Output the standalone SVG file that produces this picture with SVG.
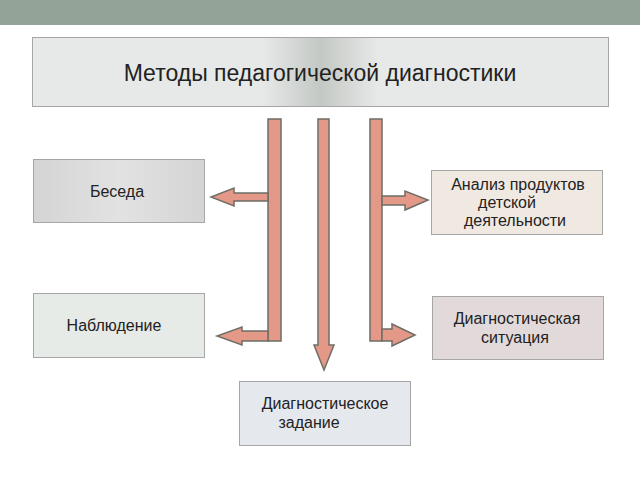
<svg xmlns="http://www.w3.org/2000/svg" width="640" height="480" viewBox="0 0 640 480">
<defs>
<linearGradient id="tg" x1="0" x2="1" y1="0" y2="0">
<stop offset="0" stop-color="#e6e9e7"/><stop offset="0.4" stop-color="#e6e9e7"/><stop offset="0.5" stop-color="#c4c8c5"/><stop offset="0.6" stop-color="#e6e9e7"/><stop offset="1" stop-color="#e6e9e7"/>
</linearGradient>
<linearGradient id="g1" x1="0" x2="1"><stop offset="0" stop-color="#d4d4d4"/><stop offset="0.5" stop-color="#e2e2e2"/><stop offset="1" stop-color="#d4d4d4"/></linearGradient>
</defs>
<style>
.b{stroke:#a6a6a6;stroke-width:1}
.t{font-family:"Liberation Sans",Arial,sans-serif;font-size:16px;fill:#222;text-anchor:middle}
.a{fill:#e39888;stroke:#6e6e66;stroke-width:1.5;stroke-linejoin:miter}
</style>
<rect width="640" height="480" fill="#fff"/>
<rect x="0" y="0" width="640" height="25" fill="#94a398"/>
<g id="title"><rect class="b" x="32.5" y="37.5" width="576" height="69" fill="url(#tg)"/><text class="t" x="320" y="81" style="font-size:23px">Методы педагогической диагностики</text></g>
<g id="beseda"><rect class="b" x="33.5" y="159.5" width="171" height="63" fill="url(#g1)"/><text class="t" x="117" y="197">Беседа</text></g>
<g id="nabl"><rect class="b" x="33.5" y="293.5" width="171" height="64" fill="#e6ebe8"/><text class="t" x="114" y="331">Наблюдение</text></g>
<g id="analiz"><rect class="b" x="431.5" y="170.5" width="171" height="64" fill="#f0e9e2"/><text class="t" x="518" y="190">Анализ продуктов</text><text class="t" x="507" y="208">детской</text><text class="t" x="515" y="226">деятельности</text></g>
<g id="sit"><rect class="b" x="432.5" y="296.5" width="171" height="63" fill="#e2dada"/><text class="t" x="517" y="324">Диагностическая</text><text class="t" x="515" y="343">ситуация</text></g>
<g id="zad"><rect class="b" x="239.5" y="381.5" width="171" height="64" fill="#e5e8ed"/><text class="t" x="325" y="409">Диагностическое</text><text class="t" x="309" y="428">задание</text></g>
<g id="connectors">
<path class="a" d="M268,119 H281 V341 H268 Z"/>
<path class="a" d="M268,193 H234 V188 L211,197 L234,206 V201 H268 Z"/>
<path class="a" d="M268,331 H242 V327 L217,336 L242,345 V341 H268 Z"/>
<path class="a" d="M318,119 H329 V345 H334 L324,370 L314,345 H318 Z"/>
<path class="a" d="M370,119 H382 V341 H370 Z"/>
<path class="a" d="M382,196 H405 V191 L428,200 L405,210 V205 H382 Z"/>
<path class="a" d="M382,329 H392 V324 L415,335 L392,346 V341 H382 Z"/>
</g>
</svg>
